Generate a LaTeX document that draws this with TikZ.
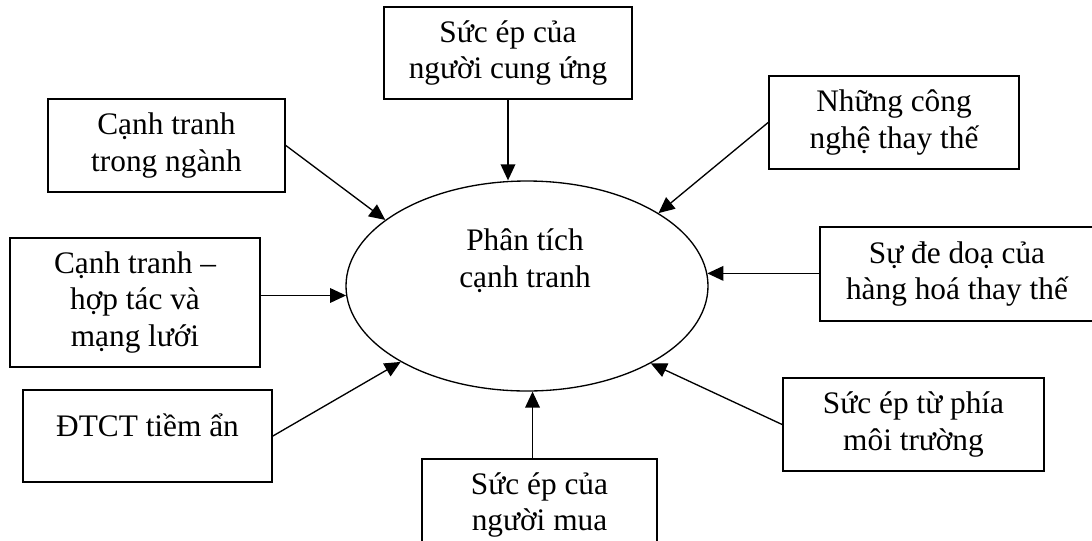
\documentclass[tikz,border=0pt]{standalone}
\usepackage{fontspec}
\setmainfont{Liberation Serif}
\usetikzlibrary{shapes.geometric,arrows.meta}
\begin{document}
\begin{tikzpicture}[x=0.75pt,y=-0.75pt,
  box/.style={draw,line width=1.3pt,rectangle,inner sep=0pt,align=center,
    font=\fontsize{23.5pt}{27.5pt}\selectfont},
  txt/.style={inner sep=0pt,align=center,font=\fontsize{23.5pt}{27.5pt}\selectfont},
  arr/.style={line width=1pt,-{Triangle[length=12pt,width=11pt]}}]
\useasboundingbox (0,0) rectangle (1092,540);
\clip (0,0) rectangle (1092,540);
\fill[white] (0,0) rectangle (1092,540);

\node[draw,line width=1pt,ellipse,minimum width=362*0.75pt,minimum height=210*0.75pt,inner sep=0pt] (ell) at (527,286) {};
\node[txt] (elltxt) at (525,261) {Phân tích\\cạnh tranh};

\node[box,minimum width=248*0.75pt,minimum height=92*0.75pt] (sup) at (508,53) {Sức ép của\\người cung ứng};
\node[box,minimum width=237*0.75pt,minimum height=93*0.75pt] (rival) at (166.5,145.5) {Cạnh tranh\\trong ngành};
\node[box,minimum width=250*0.75pt,minimum height=129*0.75pt] (coop) at (135,302.5) {Cạnh tranh –\\hợp tác và\\mạng lưới};
\node[box,minimum width=249*0.75pt,minimum height=92*0.75pt,text height=17pt,text depth=17pt] (dtct) at (147.5,436) {ĐTCT tiềm ẩn};
\node[box,minimum width=235*0.75pt,minimum height=92*0.75pt] (buyer) at (539.5,505) {Sức ép của\\người mua};
\node[box,minimum width=250*0.75pt,minimum height=93*0.75pt] (tech) at (894,122.5) {Những công\\nghệ thay thế};
\node[box,minimum width=274*0.75pt,minimum height=94*0.75pt] (threat) at (957,274) {Sự đe doạ của\\hàng hoá thay thế};
\node[box,minimum width=261*0.75pt,minimum height=93*0.75pt] (env) at (913.5,424.5) {Sức ép từ phía\\môi trường};

\draw[arr] (sup.south) -- (sup.south |- ell.north);
\draw[arr] (rival.east) -- (ell.155.5);
\draw[arr] (coop.east |- ell.183.5) -- (ell.183.5);
\draw[arr] (dtct.east) -- (ell.211.5);
\draw[arr] (ell.273.3 |- buyer.north) -- (ell.273.3);
\draw[arr] (tech.west) -- (ell.29.8);
\draw[arr] (threat.west |- ell.4.4) -- (ell.4.4);
\draw[arr] (env.west) -- (ell.328.7);
\end{tikzpicture}
\end{document}
